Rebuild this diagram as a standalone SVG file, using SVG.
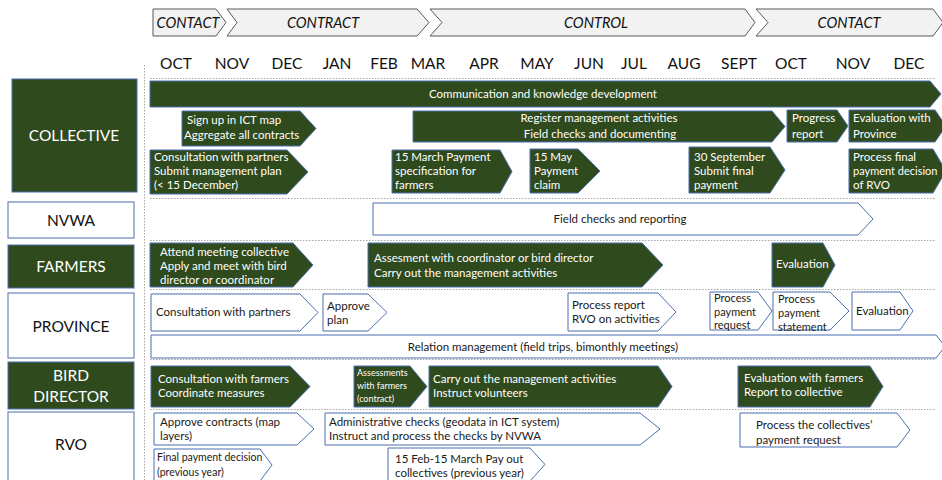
<svg xmlns="http://www.w3.org/2000/svg" width="942" height="480" viewBox="0 0 942 480">
<style>
.ph{fill:#f2f2f2;stroke:#595959;stroke-width:1}
.pt{font-family:Lato,"Liberation Sans",sans-serif;font-style:italic;font-size:14.5px;fill:#111;text-anchor:middle}
.mo{font-family:Lato,"Liberation Sans",sans-serif;font-size:15.5px;fill:#111;text-anchor:middle}
.grid{stroke:#a6a6a6;stroke-width:1;stroke-dasharray:1.5 1.5;fill:none}
.g{fill:#2f4a1d;stroke:#4a6fb0;stroke-width:1}
.w{fill:#fff;stroke:#4a6fb0;stroke-width:1}
.lab{font-family:Lato,"Liberation Sans",sans-serif;font-size:15.5px;text-anchor:middle}
.tw{font-family:Lato,"Liberation Sans",sans-serif;font-size:11.5px;fill:#fff}
.tb{font-family:Lato,"Liberation Sans",sans-serif;font-size:11.5px;fill:#1a1a1a}
.c{text-anchor:middle}
</style>
<rect width="942" height="480" fill="#fff"/>
<g id="phases">
<polygon class="ph" points="153,9 216,9 226,22.5 216,36 153,36"/>
<text class="pt" x="188" y="28">CONTACT</text>
<polygon class="ph" points="227,9 417,9 429,22.5 417,36 227,36 237,22.5"/>
<text class="pt" x="323" y="28">CONTRACT</text>
<polygon class="ph" points="430,9 745,9 755,22.5 745,36 430,36 442,22.5"/>
<text class="pt" x="596" y="28">CONTROL</text>
<polygon class="ph" points="756,9 933,9 943,22.5 933,36 756,36 768,22.5"/>
<text class="pt" x="849" y="28">CONTACT</text>
</g>
<g id="months">
<text class="mo" x="176" y="69">OCT</text>
<text class="mo" x="232" y="69">NOV</text>
<text class="mo" x="287" y="69">DEC</text>
<text class="mo" x="337" y="69">JAN</text>
<text class="mo" x="384" y="69">FEB</text>
<text class="mo" x="428" y="69">MAR</text>
<text class="mo" x="484" y="69">APR</text>
<text class="mo" x="537" y="69">MAY</text>
<text class="mo" x="589" y="69">JUN</text>
<text class="mo" x="634" y="69">JUL</text>
<text class="mo" x="684" y="69">AUG</text>
<text class="mo" x="739" y="69">SEPT</text>
<text class="mo" x="791" y="69">OCT</text>
<text class="mo" x="853" y="69">NOV</text>
<text class="mo" x="909" y="69">DEC</text>
</g>
<g id="gridlines">
<line class="grid" x1="144.5" y1="65" x2="144.5" y2="480"/>
<line class="grid" x1="150" y1="78.5" x2="935" y2="78.5"/>
<line class="grid" x1="150" y1="198.5" x2="935" y2="198.5"/>
<line class="grid" x1="150" y1="240.5" x2="935" y2="240.5"/>
<line class="grid" x1="150" y1="289.5" x2="935" y2="289.5"/>
<line class="grid" x1="150" y1="359.5" x2="935" y2="359.5"/>
<line class="grid" x1="150" y1="409.5" x2="935" y2="409.5"/>
</g>
<g id="connectors"/>
<g id="label-collective"><rect class="g" x="12" y="79" width="125" height="113"/><text class="lab" x="74" y="141" fill="#fff">COLLECTIVE</text></g>
<g id="label-nvwa"><rect class="w" x="8" y="202" width="126" height="36"/><text class="lab" x="71" y="226" fill="#111">NVWA</text></g>
<g id="label-farmers"><rect class="g" x="8" y="245" width="126" height="43"/><text class="lab" x="71" y="272" fill="#fff">FARMERS</text></g>
<g id="label-province"><rect class="w" x="8" y="293" width="126" height="65"/><text class="lab" x="71" y="332" fill="#111">PROVINCE</text></g>
<g id="label-bird"><rect class="g" x="8" y="362" width="126" height="47"/><text class="lab" x="71" y="381" fill="#fff">BIRD</text><text class="lab" x="71" y="402" fill="#fff">DIRECTOR</text></g>
<g id="label-rvo"><rect class="w" x="8" y="412" width="126" height="72"/><text class="lab" x="71" y="450" fill="#111">RVO</text></g>

<g id="c-communication"><polygon class="g" points="150,81 930,81 941,94 930,107 150,107"/><text class="tw c" x="543" y="98">Communication and knowledge development</text></g>
<g id="c-signup"><polygon class="g" points="182,111 300,111 316,128.5 300,146 182,146"/><text class="tw" x="187" y="124">Sign up in ICT map</text><text class="tw" x="184" y="139">Aggregate all contracts</text></g>
<g id="c-consult"><polygon class="g" points="150,150 287,150 308,172 287,194 150,194"/><text class="tw" x="154" y="161">Consultation with partners</text><text class="tw" x="154" y="175">Submit management plan</text><text class="tw" x="154" y="189">(&lt; 15 December)</text></g>
<g id="c-register"><polygon class="g" points="413,111 772,111 785,126.5 772,142 413,142"/><text class="tw c" x="599" y="122">Register management activities</text><text class="tw c" x="600" y="138">Field checks and documenting</text></g>
<g id="c-progress"><polygon class="g" points="787,110 837,110 848,126 837,142 787,142"/><text class="tw" x="792" y="122">Progress</text><text class="tw" x="792" y="138">report</text></g>
<g id="c-evalprov"><polygon class="g" points="849,110 935,110 946,126 935,142 849,142"/><text class="tw" x="853" y="122">Evaluation with</text><text class="tw" x="853" y="138">Province</text></g>
<g id="c-15march"><polygon class="g" points="392,150 500,150 512,171.5 500,193 392,193"/><text class="tw" x="395" y="161">15 March Payment</text><text class="tw" x="395" y="175">specification for</text><text class="tw" x="395" y="189">farmers</text></g>
<g id="c-15may"><polygon class="g" points="530,149 578,149 600,171 578,193 530,193"/><text class="tw" x="534" y="161">15 May</text><text class="tw" x="534" y="175">Payment</text><text class="tw" x="534" y="189">claim</text></g>
<g id="c-30sept"><polygon class="g" points="689,147 770,147 785,170 770,193 689,193"/><text class="tw" x="694" y="161">30 September</text><text class="tw" x="694" y="175">Submit final</text><text class="tw" x="694" y="189">payment</text></g>
<g id="c-finaldecision"><polygon class="g" points="849,149 933,149 946,171 933,193 849,193"/><text class="tw" x="853" y="161">Process final</text><text class="tw" x="853" y="175" style="font-size:11px">payment decision</text><text class="tw" x="853" y="189">of RVO</text></g>

<g id="n-fieldchecks"><polygon class="w" points="373,203 858,203 873,219 858,235 373,235"/><text class="tb c" x="620" y="223">Field checks and reporting</text></g>

<g id="f-attend"><polygon class="g" points="150,243 293,243 313,265 293,287 150,287"/><text class="tw" x="160" y="256">Attend meeting collective</text><text class="tw" x="160" y="270">Apply and meet with bird</text><text class="tw" x="160" y="284">director or coordinator</text></g>
<g id="f-assesment"><polygon class="g" points="368,243 642,243 663,265 642,287 368,287"/><text class="tw" x="374" y="262">Assesment with coordinator or bird director</text><text class="tw" x="374" y="277">Carry out the management activities</text></g>
<g id="f-evaluation"><polygon class="g" points="772,243 823,243 835,265 823,287 772,287"/><text class="tw" x="776" y="268">Evaluation</text></g>

<g id="p-consult"><polygon class="w" points="151,294 300,294 318,312.5 300,331 151,331"/><text class="tb" x="156" y="316">Consultation with partners</text></g>
<g id="p-approve"><polygon class="w" points="323,294 368,294 387,312.5 368,331 323,331"/><text class="tb" x="327" y="310">Approve</text><text class="tb" x="327" y="324">plan</text></g>
<g id="p-report"><polygon class="w" points="568,293 658,293 676,312 658,331 568,331"/><text class="tb" x="572" y="309">Process report</text><text class="tb" x="572" y="323">RVO on activities</text></g>
<g id="p-request"><polygon class="w" points="710,292 758,292 772,311 758,330 710,330"/><text class="tb" x="714" y="302" style="font-size:11px">Process</text><text class="tb" x="714" y="316" style="font-size:11px">payment</text><text class="tb" x="714" y="329" style="font-size:11px">request</text></g>
<g id="p-statement"><polygon class="w" points="773,292 830,292 849,311 830,330 773,330"/><text class="tb" x="778" y="303" style="font-size:11px">Process</text><text class="tb" x="778" y="317" style="font-size:11px">payment</text><text class="tb" x="778" y="331" style="font-size:11px">statement</text></g>
<g id="p-evaluation"><polygon class="w" points="852,292 900,292 913,311 900,330 852,330"/><text class="tb" x="856" y="315">Evaluation</text></g>
<g id="p-relation"><polygon class="w" points="151,335 936,335 945,346.5 936,358 151,358"/><text class="tb c" x="543" y="351">Relation management (field trips, bimonthly meetings)</text></g>

<g id="b-consult"><polygon class="g" points="151,366 290,366 310,386.5 290,407 151,407"/><text class="tw" x="158" y="383">Consultation with farmers</text><text class="tw" x="158" y="397">Coordinate measures</text></g>
<g id="b-assess"><polygon class="g" points="354,366 410,366 427,386.5 410,407 354,407"/><text class="tw" x="357" y="376" style="font-size:9px">Assessments</text><text class="tw" x="357" y="389" style="font-size:9px">with farmers</text><text class="tw" x="357" y="402" style="font-size:9px">(contract)</text></g>
<g id="b-carry"><polygon class="g" points="429,366 658,366 672,386.5 658,407 429,407"/><text class="tw" x="433" y="383">Carry out the management activities</text><text class="tw" x="433" y="397">Instruct volunteers</text></g>
<g id="b-evaluation"><polygon class="g" points="738,366 870,366 883,386.5 870,407 738,407"/><text class="tw" x="744" y="382">Evaluation with farmers</text><text class="tw" x="744" y="396">Report to collective</text></g>

<g id="r-approve"><polygon class="w" points="154,413 297,413 314,429 297,445 154,445"/><text class="tb" x="160" y="426">Approve contracts (map</text><text class="tb" x="160" y="440">layers)</text></g>
<g id="r-admin"><polygon class="w" points="325,413 640,413 660,429 640,445 325,445"/><text class="tb" x="329" y="426">Administrative checks (geodata in ICT system)</text><text class="tb" x="329" y="440">Instruct and process the checks by NVWA</text></g>
<g id="r-final"><polygon class="w" points="154,449 260,449 272,465 260,481 154,481"/><text class="tb" x="157" y="461" style="font-size:10.5px">Final payment decision</text><text class="tb" x="157" y="476" style="font-size:10.5px">(previous year)</text></g>
<g id="r-payout"><polygon class="w" points="388,448 530,448 545,464.5 530,481 388,481"/><text class="tb" x="395" y="463">15 Feb-15 March Pay out</text><text class="tb" x="395" y="477">collectives (previous year)</text></g>
<g id="r-process"><polygon class="w" points="740,413 897,413 910,430 897,447 740,447"/><text class="tb" x="756" y="429">Process the collectives’</text><text class="tb" x="756" y="444">payment request</text></g>
</svg>
